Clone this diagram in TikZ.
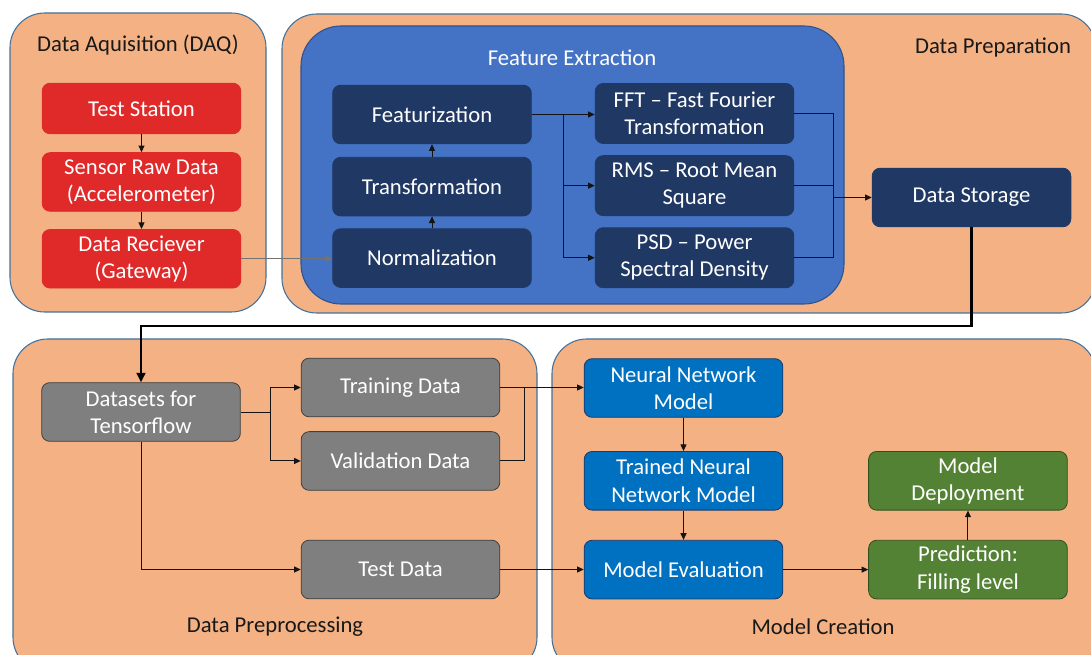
\documentclass[tikz,border=0pt]{standalone}
\usepackage{fontspec}
\setmainfont{Carlito}
\usetikzlibrary{arrows.meta, positioning, calc}
\definecolor{panelcolor}{RGB}{244, 177, 131}
\definecolor{paneledge}{RGB}{65, 113, 156}
\definecolor{featcolor}{RGB}{68, 114, 196}
\definecolor{featedge}{RGB}{47, 82, 143}
\definecolor{navycolor}{RGB}{32, 56, 100}
\definecolor{daqcolor}{RGB}{224, 42, 42}
\definecolor{graycolor}{RGB}{127, 127, 127}
\definecolor{modelcolor}{RGB}{0, 112, 192}
\definecolor{deploycolor}{RGB}{84, 130, 53}
\definecolor{arrowcolor}{RGB}{20, 20, 20}
\tikzset{
    % Base styles
    basenode/.style={
        draw, align=center, text=white, font=\fontsize{17}{20.5}\selectfont,
        minimum width=149pt, minimum height=44pt, inner sep=2pt,
        rounded corners=6pt, line width=0.6pt
    },
    % Specific node types
    daqnode/.style={basenode, fill=daqcolor, draw=daqcolor},
    featnode/.style={basenode, fill=navycolor, draw=navycolor},
    prepnode/.style={basenode, fill=graycolor, draw=black!75},
    modelnode/.style={basenode, fill=modelcolor, draw=navycolor},
    deploynode/.style={basenode, fill=deploycolor, draw=deploycolor!60!black},
    % Panels
    panel/.style={fill=panelcolor, draw=paneledge, line width=0.8pt, rounded corners=26pt},
    featpanel/.style={fill=featcolor, draw=featedge, line width=0.8pt, rounded corners=30pt},
    paneltitle/.style={font=\fontsize{17}{20.5}\selectfont, text=black!90},
    % Arrows
    myarrow/.style={-{Triangle[length=5pt, width=4.5pt]}, line width=0.75pt, arrowcolor},
    plainline/.style={line width=0.75pt, arrowcolor},
    bigarrow/.style={-{Triangle[length=7pt, width=6.5pt]}, line width=2.2pt, black},
}

\begin{document}
\begin{tikzpicture}[x=0.75pt, y=-0.75pt]
\useasboundingbox (0,0) rectangle (1091,655);
\clip (0,0) rectangle (1091,655);

% Panels
\draw[panel] (10,13) rectangle (266,312);
\draw[panel] (282,14) rectangle (1096,313);
\draw[featpanel] (301,26) rectangle (844,304);
\draw[panel] (13,339) rectangle (537,672);
\draw[panel] (552,339) rectangle (1096,672);

% Panel titles
\node[paneltitle] (daqtitle) at (138,45) {Data Aquisition (DAQ)};
\node[paneltitle, text=white] (feattitle) at (572,58) {Feature Extraction};
\node[paneltitle] (preptitle) at (993,47) {Data Preparation};
\node[paneltitle] (proctitle) at (275,627) {Data Preprocessing};
\node[paneltitle] (modeltitle) at (823,627) {Model Creation};

% Data acquisition
\node[daqnode, minimum height=38pt] (station) at (141.5,108.5) {Test Station};
\node[daqnode, below=13.5pt of station] (sensor) {Sensor Raw Data\\(Accelerometer)};
\node[daqnode, below=13pt of sensor] (receiver) {Data Reciever\\(Gateway)};

% Feature extraction
\node[featnode] (featurization) at (432,114.5) {Featurization};
\node[featnode, below=9.5pt of featurization] (transformation) {Transformation};
\node[featnode, below=9pt of transformation] (normalization) {Normalization};

\node[featnode, minimum height=45pt] (fft) at (694.5,113.5) {FFT -- Fast Fourier\\Transformation};
\node[featnode, minimum height=45pt, below=8.5pt of fft] (rms) {RMS -- Root Mean\\Square};
\node[featnode, minimum height=45pt, below=8.5pt of rms] (psd) {PSD -- Power\\Spectral Density};

\node[featnode] (storage) at (971.5,197.5) {Data Storage};

% Data preprocessing
\node[prepnode] (datasets) at (141,412) {Datasets for\\Tensorflow};
\node[prepnode] (training) at (400.5,387.5) {Training Data};
\node[prepnode, below=10.5pt of training] (validation) {Validation Data};
\node[prepnode] (testdata) at (400.5,569.5) {Test Data};

% Model creation
\node[modelnode] (nnmodel) at (683.5,388) {Neural Network\\Model};
\node[modelnode, below=25pt of nnmodel] (trained) {Trained Neural\\Network Model};
\node[modelnode, below=22pt of trained] (evaluation) {Model Evaluation};
\node[deploynode, right=63.75pt of evaluation] (prediction) {Prediction:\\Filling level};
\node[deploynode, above=22pt of prediction] (deployment) {Model\\Deployment};

% Arrows inside acquisition
\draw[myarrow] (station) -- (sensor);
\draw[myarrow] (sensor) -- (receiver);
\draw[myarrow, draw=black!55] (receiver.east) -- (receiver.east -| normalization.west);

% Arrows inside feature extraction
\draw[myarrow] (normalization) -- (transformation);
\draw[myarrow] (transformation) -- (featurization);

\coordinate (fsplit) at ($(featurization.east)!0.5!(fft.west)$);
\draw[myarrow] (featurization.east) -- (featurization.east -| fft.west);
\draw[myarrow] (fsplit) |- (rms.west);
\draw[myarrow] (fsplit) |- (psd.west);

\coordinate (mtop) at ($(fft.east)+(39,0)$);
\draw[plainline] (fft.east) -- (mtop) -- (mtop |- psd.east) -- (psd.east);
\draw[plainline] (rms.east) -- (rms.east -| mtop);
\draw[myarrow] (storage.west -| mtop) -- (storage.west);

% Storage back to preprocessing
\coordinate (loop) at (0,326);
\draw[bigarrow] (storage.south) -- (storage.south |- loop) -| (datasets.north);

% Arrows inside preprocessing
\coordinate (dsplit) at ($(datasets.east)!0.5!(datasets.east -| training.west)$);
\draw[plainline] (datasets.east) -- (dsplit);
\draw[myarrow] (dsplit) |- (training.west);
\draw[myarrow] (dsplit) |- (validation.west);
\draw[myarrow] (datasets.south) |- (testdata.west);

\coordinate (vmerge) at ($(validation.east)+(24,0)$);
\draw[plainline] (validation.east) -- (vmerge) -- (vmerge |- training.east);
\draw[myarrow] (training.east) -- (training.east -| nnmodel.west);
\draw[myarrow] (testdata.east) -- (testdata.east -| evaluation.west);

% Arrows inside model creation
\draw[myarrow] (nnmodel) -- (trained);
\draw[myarrow] (trained) -- (evaluation);
\draw[myarrow] (evaluation) -- (prediction);
\draw[myarrow] (prediction) -- (deployment);

\end{tikzpicture}
\end{document}
